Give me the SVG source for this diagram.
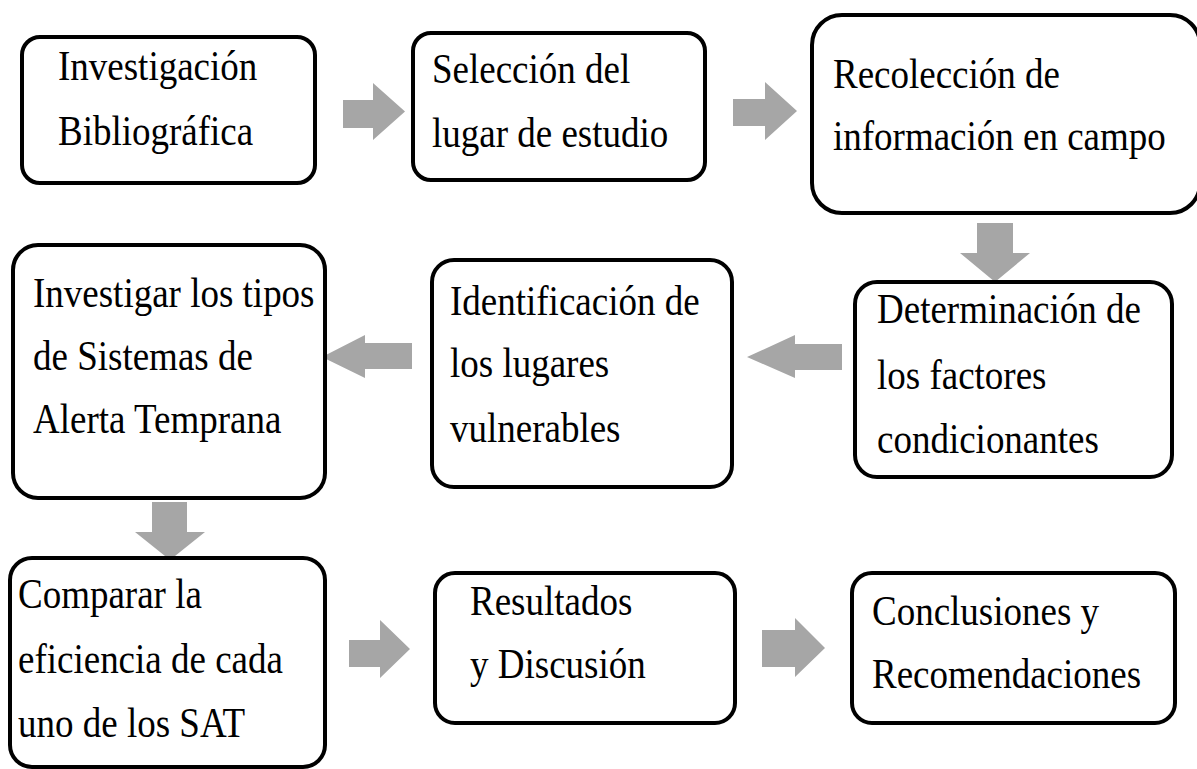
<svg xmlns="http://www.w3.org/2000/svg" width="1197" height="769" viewBox="0 0 1197 769">
<style>
.box{fill:#fff;stroke:#000;stroke-width:4}
.t{font-size:37px;fill:#000}
.arr{fill:#a6a6a6}
</style>
<rect width="1197" height="769" fill="#fff"/>
<g id="connectors">
<polygon class="arr" points="343,100 373,100 373,83 405,111.5 373,140 373,128 343,128"/>
<polygon class="arr" points="733,99 765,99 765,82 797,111 765,140 765,126 733,126"/>
<polygon class="arr" points="977,223 1013,223 1013,253 1030,253 995,282 960,253 977,253"/>
<polygon class="arr" points="842,344 795,344 795,335 747,357 795,378 795,370 842,370"/>
<polygon class="arr" points="412,343 365,343 365,335 322,357 365,378 365,369 412,369"/>
<polygon class="arr" points="152,502 187,502 187,532 205,532 170,560 135,532 152,532"/>
<polygon class="arr" points="349,640 380,640 380,620 410,649 380,678 380,667 349,667"/>
<polygon class="arr" points="762,630 795,630 795,618 825,648 795,677 795,667 762,667"/>
</g>
<g id="n1">
<rect class="box" x="22" y="37" width="293" height="146" rx="18"/>
<text class="t" font-family="Liberation Serif, DejaVu Serif, serif" transform="translate(58 80) scale(1 1.13)"><tspan x="0" y="0">Investigación</tspan><tspan x="0" y="57.5">Bibliográfica</tspan></text>
</g>
<g id="n2">
<rect class="box" x="413" y="33" width="292" height="147" rx="18"/>
<text class="t" font-family="Liberation Serif, DejaVu Serif, serif" transform="translate(432 83) scale(1 1.13)"><tspan x="0" y="0">Selección del</tspan><tspan x="0" y="56.6">lugar de estudio</tspan></text>
</g>
<g id="n3">
<rect class="box" x="812" y="15" width="388" height="198" rx="30"/>
<text class="t" font-family="Liberation Serif, DejaVu Serif, serif" transform="translate(833 88) scale(1 1.13)"><tspan x="0" y="0">Recolección de</tspan><tspan x="0" y="54.9">información en campo</tspan></text>
</g>
<g id="n4">
<rect class="box" x="855" y="282" width="317" height="195" rx="22"/>
<text class="t" font-family="Liberation Serif, DejaVu Serif, serif" transform="translate(877 323) scale(1 1.13)"><tspan x="0" y="0">Determinación de</tspan><tspan x="0" y="58.5">los factores</tspan><tspan x="0" y="115">condicionantes</tspan></text>
</g>
<g id="n5">
<rect class="box" x="432" y="260" width="300" height="227" rx="22"/>
<text class="t" font-family="Liberation Serif, DejaVu Serif, serif" transform="translate(450 315) scale(1 1.13)"><tspan x="0" y="0">Identificación de</tspan><tspan x="0" y="55">los lugares</tspan><tspan x="0" y="112">vulnerables</tspan></text>
</g>
<g id="n6">
<rect class="box" x="13" y="245" width="312" height="253" rx="25"/>
<text class="t" font-family="Liberation Serif, DejaVu Serif, serif" transform="translate(33 307) scale(1 1.13)"><tspan x="0" y="0">Investigar los tipos</tspan><tspan x="0" y="55.8">de Sistemas de</tspan><tspan x="0" y="111.5">Alerta Temprana</tspan></text>
</g>
<g id="n7">
<rect class="box" x="10" y="558" width="315" height="209" rx="22"/>
<text class="t" font-family="Liberation Serif, DejaVu Serif, serif" transform="translate(18 608) scale(1 1.13)"><tspan x="0" y="0">Comparar la</tspan><tspan x="0" y="57.5">eficiencia de cada</tspan><tspan x="0" y="114">uno de los SAT</tspan></text>
</g>
<g id="n8">
<rect class="box" x="435" y="573" width="300" height="150" rx="20"/>
<text class="t" font-family="Liberation Serif, DejaVu Serif, serif" transform="translate(470 615) scale(1 1.13)"><tspan x="0" y="0">Resultados</tspan><tspan x="0" y="55.8">y Discusión</tspan></text>
</g>
<g id="n9">
<rect class="box" x="852" y="573" width="323" height="150" rx="20"/>
<text class="t" font-family="Liberation Serif, DejaVu Serif, serif" transform="translate(872 625) scale(1 1.13)"><tspan x="0" y="0">Conclusiones y</tspan><tspan x="0" y="55.8">Recomendaciones</tspan></text>
</g>
</svg>
